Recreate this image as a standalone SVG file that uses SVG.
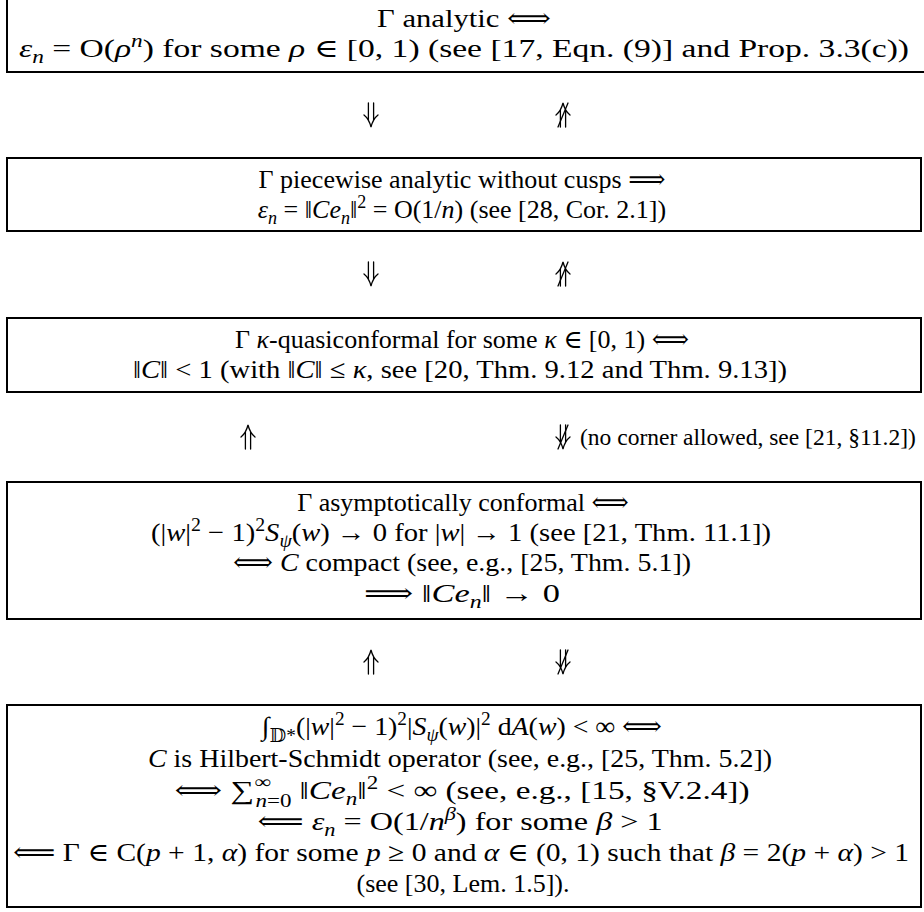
<svg xmlns="http://www.w3.org/2000/svg" width="924" height="912" viewBox="0 0 924 912">
<style>
.box{fill:#fff;stroke:#000;stroke-width:2}
.t{font-family:"Liberation Serif","DejaVu Serif","DejaVu Sans",serif;font-size:26px;fill:#000;text-anchor:middle}
.l{text-anchor:start;font-size:23.5px}
.i{font-style:italic}
.s{font-size:18px}
.arr{fill:none;stroke:#000;stroke-width:1.3;stroke-linecap:round}
</style>
<defs>
<g id="dn"><path class="arr" d="M-2.6,-12V5M2.6,-12V5M-7,0Q-2,4 0,12Q2,4 7,0"/></g>
<g id="up"><path class="arr" d="M-2.6,12V-5M2.6,12V-5M-7,0Q-2,-4 0,-12Q2,-4 7,0"/></g>
<path id="neg" class="arr" d="M-5,12L5,-12"/>
</defs>
<rect width="924" height="912" fill="#fff"/>

<g id="n1">
<rect class="box" x="7" y="-10" width="930" height="82"/>
<text class="t" x="464" y="27" textLength="174" lengthAdjust="spacingAndGlyphs">Γ analytic ⟺</text>
<text class="t" x="464" y="57" textLength="890" lengthAdjust="spacingAndGlyphs"><tspan class="i">ε</tspan><tspan class="i s" dy="6">n</tspan><tspan dy="-6"> = O(</tspan><tspan class="i">ρ</tspan><tspan class="i s" dy="-10">n</tspan><tspan dy="10">) for some </tspan><tspan class="i">ρ</tspan><tspan> ∈ [0, 1) (see [17, Eqn. (9)] and Prop. 3.3(c))</tspan></text>
</g>

<g id="n2">
<rect class="box" x="7" y="158" width="914" height="73"/>
<text class="t" x="462" y="188">Γ piecewise analytic without cusps ⟹</text>
<text class="t" x="462" y="218"><tspan class="i">ε</tspan><tspan class="i s" dy="6">n</tspan><tspan dy="-6"> = ‖</tspan><tspan class="i">Ce</tspan><tspan class="i s" dy="6">n</tspan><tspan dy="-6">‖</tspan><tspan class="s" dy="-10">2</tspan><tspan dy="10"> = O(1/</tspan><tspan class="i">n</tspan><tspan>) (see [28, Cor. 2.1])</tspan></text>
</g>

<g id="n3">
<rect class="box" x="7" y="318" width="914" height="74"/>
<text class="t" x="462" y="348"><tspan>Γ </tspan><tspan class="i">κ</tspan><tspan>-quasiconformal for some </tspan><tspan class="i">κ</tspan><tspan> ∈ [0, 1) ⟺</tspan></text>
<text class="t" x="460" y="378" textLength="654" lengthAdjust="spacingAndGlyphs"><tspan>‖</tspan><tspan class="i">C</tspan><tspan>‖ &lt; 1 (with ‖</tspan><tspan class="i">C</tspan><tspan>‖ ≤ </tspan><tspan class="i">κ</tspan><tspan>, see [20, Thm. 9.12 and Thm. 9.13])</tspan></text>
</g>

<g id="n4">
<rect class="box" x="7" y="482" width="914" height="137"/>
<text class="t" x="463" y="511">Γ asymptotically conformal ⟺</text>
<text class="t" x="461" y="541" textLength="620" lengthAdjust="spacingAndGlyphs"><tspan>(|</tspan><tspan class="i">w</tspan><tspan>|</tspan><tspan class="s" dy="-10">2</tspan><tspan dy="10"> − 1)</tspan><tspan class="s" dy="-10">2</tspan><tspan class="i" dy="10">S</tspan><tspan class="i s" dy="6">ψ</tspan><tspan dy="-6">(</tspan><tspan class="i">w</tspan><tspan>) → 0 for |</tspan><tspan class="i">w</tspan><tspan>| → 1 (see [21, Thm. 11.1])</tspan></text>
<text class="t" x="462" y="571" textLength="458" lengthAdjust="spacingAndGlyphs"><tspan>⟺ </tspan><tspan class="i">C</tspan><tspan> compact (see, e.g., [25, Thm. 5.1])</tspan></text>
<text class="t" x="462" y="602" textLength="196" lengthAdjust="spacingAndGlyphs"><tspan>⟹ ‖</tspan><tspan class="i">Ce</tspan><tspan class="i s" dy="6">n</tspan><tspan dy="-6">‖ → 0</tspan></text>
</g>

<g id="n5">
<rect class="box" x="7" y="705" width="914" height="202"/>
<text class="t" x="462" y="735" textLength="400" lengthAdjust="spacingAndGlyphs"><tspan>∫</tspan><tspan class="s" dy="7">𝔻*</tspan><tspan dy="-7">(|</tspan><tspan class="i">w</tspan><tspan>|</tspan><tspan class="s" dy="-10">2</tspan><tspan dy="10"> − 1)</tspan><tspan class="s" dy="-10">2</tspan><tspan dy="10">|</tspan><tspan class="i">S</tspan><tspan class="i s" dy="6">ψ</tspan><tspan dy="-6">(</tspan><tspan class="i">w</tspan><tspan>)|</tspan><tspan class="s" dy="-10">2</tspan><tspan dy="10"> d</tspan><tspan class="i">A</tspan><tspan>(</tspan><tspan class="i">w</tspan><tspan>) &lt; ∞ ⟺</tspan></text>
<text class="t" x="460" y="767" textLength="624" lengthAdjust="spacingAndGlyphs"><tspan class="i">C</tspan><tspan> is Hilbert-Schmidt operator (see, e.g., [25, Thm. 5.2])</tspan></text>
<text class="t" x="462" y="799" textLength="575" lengthAdjust="spacingAndGlyphs"><tspan>⟺ ∑</tspan><tspan class="s" dx="1" dy="8"><tspan class="i">n</tspan>=0</tspan><tspan class="s" dx="-29" dy="-19">∞</tspan><tspan dx="16" dy="11"> ‖</tspan><tspan class="i">Ce</tspan><tspan class="i s" dy="6">n</tspan><tspan dy="-6">‖</tspan><tspan class="s" dy="-10">2</tspan><tspan dy="10"> &lt; ∞ (see, e.g., [15, §V.2.4])</tspan></text>
<text class="t" x="460" y="830" textLength="405" lengthAdjust="spacingAndGlyphs"><tspan>⟸ </tspan><tspan class="i">ε</tspan><tspan class="i s" dy="6">n</tspan><tspan dy="-6"> = O(1/</tspan><tspan class="i">n</tspan><tspan class="i s" dy="-10">β</tspan><tspan dy="10">) for some </tspan><tspan class="i">β</tspan><tspan> &gt; 1</tspan></text>
<text class="t" x="461" y="861" textLength="896" lengthAdjust="spacingAndGlyphs"><tspan>⟸ Γ ∈ C(</tspan><tspan class="i">p</tspan><tspan> + 1, </tspan><tspan class="i">α</tspan><tspan>) for some </tspan><tspan class="i">p</tspan><tspan> ≥ 0 and </tspan><tspan class="i">α</tspan><tspan> ∈ (0, 1) such that </tspan><tspan class="i">β</tspan><tspan> = 2(</tspan><tspan class="i">p</tspan><tspan> + </tspan><tspan class="i">α</tspan><tspan>) &gt; 1</tspan></text>
<text class="t" x="463" y="892">(see [30, Lem. 1.5]).</text>
</g>

<g id="connectors">
<use href="#dn" x="371" y="115"/>
<use href="#up" x="563" y="115"/><use href="#neg" x="563" y="115"/>
<use href="#dn" x="371" y="274"/>
<use href="#up" x="563" y="274"/><use href="#neg" x="563" y="274"/>
<use href="#up" x="248" y="437"/>
<use href="#dn" x="563" y="437"/><use href="#neg" x="563" y="437"/>
<text class="t l" x="580" y="445">(no corner allowed, see [21, §11.2])</text>
<use href="#up" x="371" y="662"/>
<use href="#dn" x="563" y="662"/><use href="#neg" x="563" y="662"/>
</g>
</svg>
